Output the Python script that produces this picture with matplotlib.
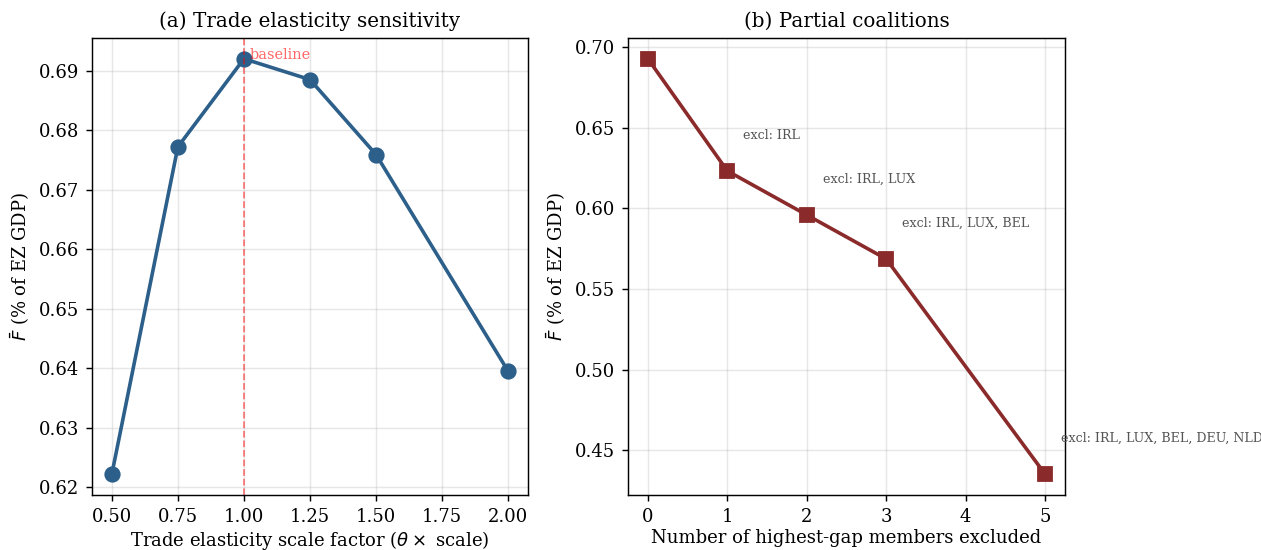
import matplotlib
matplotlib.use("Agg")
import matplotlib.pyplot as plt

# panel (a): trade elasticity sensitivity
theta_scale = [0.5, 0.75, 1.0, 1.25, 1.5, 2.0]
f_bar_theta = [0.6222, 0.6772, 0.6920, 0.6885, 0.6759, 0.6395]
baseline_scale = 1.0

# panel (b): partial coalitions
n_excluded = [0, 1, 2, 3, 5]
f_bar_coal = [0.6926, 0.6231, 0.5958, 0.5685, 0.4351]
excl_labels = [
    "",
    "excl: IRL",
    "excl: IRL, LUX",
    "excl: IRL, LUX, BEL",
    "excl: IRL, LUX, BEL, DEU, NLD",
]

plt.rcParams["font.family"] = "serif"
plt.rcParams["font.serif"] = ["DejaVu Serif"]

DPI = 130
fig = plt.figure(figsize=(1261 / DPI, 550 / DPI), dpi=DPI)
ax1 = fig.add_axes([92 / 1261, 55 / 550, 436 / 1261, 457 / 550])
ax2 = fig.add_axes([628 / 1261, 55 / 550, 437 / 1261, 457 / 550])

blue = "#2c5f8a"
red = "#8b2a2a"

# (a)
ax1.plot(theta_scale, f_bar_theta, color=blue, marker="o", markersize=8, lw=2)
ax1.axvline(baseline_scale, color="red", ls="--", lw=1, alpha=0.5)
base_val = f_bar_theta[theta_scale.index(baseline_scale)]
ax1.text(baseline_scale + 0.02, base_val, "baseline", fontsize=8, color="red", alpha=0.6)
ax1.set_xlabel(r"Trade elasticity scale factor ($\theta\times$ scale)", fontsize=10, labelpad=2)
ax1.set_ylabel(r"$\bar{F}$ (% of EZ GDP)", fontsize=10)
ax1.set_title("(a) Trade elasticity sensitivity", fontsize=11)
ax1.grid(True, alpha=0.3)
ax1.tick_params(labelsize=10)

# (b)
ax2.plot(n_excluded, f_bar_coal, color=red, marker="s", markersize=8, lw=2)
for x, y, lab in zip(n_excluded, f_bar_coal, excl_labels):
    if lab:
        ax2.text(x + 0.2, y + 0.02, lab, fontsize=7, color="#555555")
ax2.set_xlabel("Number of highest-gap members excluded", fontsize=10, labelpad=2)
ax2.set_ylabel(r"$\bar{F}$ (% of EZ GDP)", fontsize=10)
ax2.set_title("(b) Partial coalitions", fontsize=11)
ax2.grid(True, alpha=0.3)
ax2.tick_params(labelsize=10)

fig.savefig("out.png", dpi=DPI)
